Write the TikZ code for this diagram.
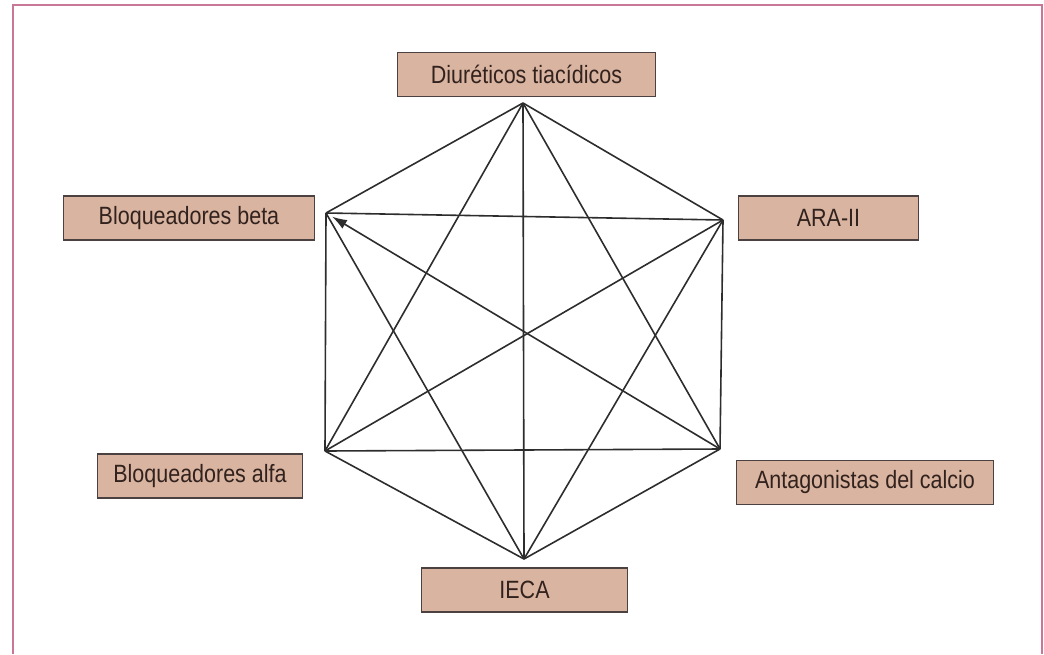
\documentclass[tikz,border=0pt]{standalone}
\usepackage{fontspec}
\setmainfont{Liberation Sans}[FakeStretch=0.86]
\usetikzlibrary{arrows.meta}
\definecolor{boxfill}{RGB}{217,180,160}
\definecolor{boxline}{RGB}{75,65,65}
\definecolor{boxtext}{RGB}{50,34,30}
\definecolor{frame}{RGB}{200,120,150}
\definecolor{edge}{RGB}{45,45,45}

\begin{document}
\begin{tikzpicture}[
  x=1pt, y=-1pt,
  drug/.style={draw=boxline, line width=1.8pt, fill=boxfill, text=boxtext, inner sep=0pt, minimum height=44pt, font=\fontsize{25}{30}\selectfont},
  link/.style={draw=edge, line width=1.6pt},
  main/.style={link, -{Latex[length=15pt, width=10pt]}, shorten >=7pt}
]
\useasboundingbox (0,0) rectangle (1044,654);
\draw[frame, line width=2pt] (13,654) -- (13,5) -- (1042,5) -- (1042,654);

\node[drug, minimum width=258pt] (diur) at (526.5,74.5) {Diuréticos tiacídicos};
\node[drug, minimum width=251pt] (beta) at (189,218) {Bloqueadores beta};
\node[drug, minimum width=180pt] (ara) at (828.5,218) {ARA-II};
\node[drug, minimum width=205pt] (alfa) at (200,476) {Bloqueadores alfa};
\node[drug, minimum width=257pt] (calc) at (865,482.5) {Antagonistas del calcio};
\node[drug, minimum width=206pt] (ieca) at (524.5,590) {IECA};

\coordinate (vT) at (523,103);
\coordinate (vUR) at (723,220);
\coordinate (vLR) at (720,449);
\coordinate (vB) at (524,559);
\coordinate (vLL) at (325,451);
\coordinate (vUL) at (326,213);

\foreach \a/\b in {vT/vUR, vUR/vLR, vLR/vB, vB/vLL, vLL/vUL, vUL/vT,
                   vT/vB, vUL/vUR, vLL/vLR, vUR/vLL,
                   vT/vLL, vT/vLR, vB/vUL, vB/vUR}
  \draw[link] (\a) -- (\b);
\draw[main] (vLR) -- (vUL);

\end{tikzpicture}
\end{document}
